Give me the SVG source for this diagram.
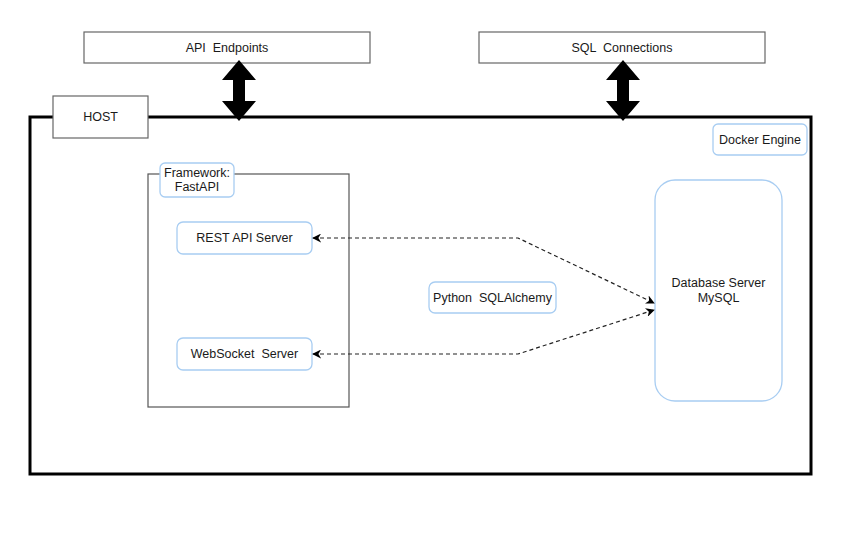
<svg xmlns="http://www.w3.org/2000/svg" width="864" height="547" viewBox="0 0 864 547">
<defs>
<style>
text{font-family:"Liberation Sans",Arial,sans-serif;font-size:12.5px;fill:#1a1a1a;text-anchor:middle;dominant-baseline:central;white-space:pre}
.gray{fill:#fff;stroke:#666;stroke-width:1.2}
.blue{fill:#fff;stroke:#a8cdf2;stroke-width:1.3}
.dash{fill:none;stroke:#222;stroke-width:1.2;stroke-dasharray:4 3}
.big{fill:#000}
</style>
<marker id="ah" viewBox="0 0 10 10" refX="9" refY="5" markerWidth="9" markerHeight="9" markerUnits="userSpaceOnUse" orient="auto-start-reverse">
<path d="M0,0 L10,5 L0,10 L3,5 Z" fill="#000"/>
</marker>
</defs>
<rect width="864" height="547" fill="#fff"/>
<g id="host">
<rect x="30" y="117" width="781" height="357" fill="none" stroke="#000" stroke-width="3"/>
</g>
<g id="host-label">
<rect x="53" y="96" width="95" height="42" class="gray"/>
<text x="100.5" y="117">HOST</text>
</g>
<g id="api-endpoints">
<rect x="84" y="32" width="286" height="31" class="gray"/>
<text x="227" y="47.5" xml:space="preserve">API  Endpoints</text>
</g>
<g id="sql-connections">
<rect x="479" y="32" width="286" height="31" class="gray"/>
<text x="622" y="47.5" xml:space="preserve">SQL  Connections</text>
</g>
<g id="docker-engine">
<rect x="713" y="124" width="94" height="31" rx="5" class="blue"/>
<text x="760" y="139.5">Docker Engine</text>
</g>
<g id="framework">
<rect x="148" y="174" width="201" height="233" fill="#fff" stroke="#555" stroke-width="1.2"/>
</g>
<g id="framework-label">
<rect x="160" y="163" width="74" height="34" rx="5" class="blue"/>
<text x="197" y="173">Framework:</text>
<text x="197" y="187">FastAPI</text>
</g>
<g id="rest-api-server">
<rect x="177" y="222" width="135" height="32" rx="6" class="blue"/>
<text x="244.5" y="238">REST API Server</text>
</g>
<g id="websocket-server">
<rect x="177" y="338" width="135" height="32" rx="6" class="blue"/>
<text x="244.5" y="354" xml:space="preserve">WebSocket  Server</text>
</g>
<g id="python-sqlalchemy">
<rect x="429" y="282" width="127" height="31" rx="6" class="blue"/>
<text x="492.5" y="297.5" xml:space="preserve">Python  SQLAlchemy</text>
</g>
<g id="database-server">
<rect x="655" y="180" width="127" height="221" rx="20" class="blue"/>
<text x="718.5" y="283">Database Server</text>
<text x="718.5" y="298">MySQL</text>
</g>
<g id="connectors">
<path class="dash" d="M313,238 L518,238 L654,303" marker-start="url(#ah)" marker-end="url(#ah)"/>
<path class="dash" d="M313,354 L518,354 L654,310" marker-start="url(#ah)" marker-end="url(#ah)"/>
<polygon class="big" points="239,60 256,80 245,80 245,101 256,101 239,121 222,101 233,101 233,80 222,80"/>
<polygon class="big" points="623,60 640,80 629,80 629,101 640,101 623,121 606,101 617,101 617,80 606,80"/>
</g>
</svg>
